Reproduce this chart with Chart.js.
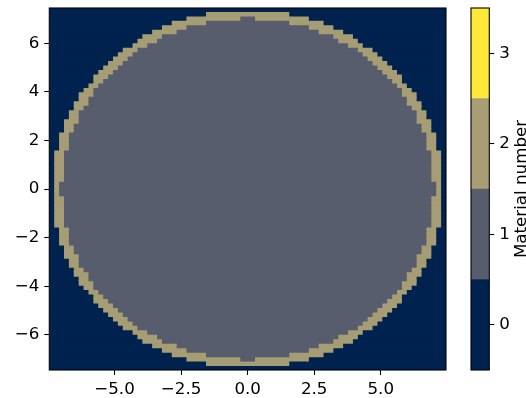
<!DOCTYPE html>
<html>
<head>
<meta charset="utf-8">
<script src="https://cdn.jsdelivr.net/npm/chart.js@4.4.0/dist/chart.umd.min.js"></script>
<style>
  body { margin: 0; background: #fff; }
  #wrap { position: relative; width: 526px; height: 398px; }
  #main { position: absolute; left: 0; top: 0; }
  #cbar { position: absolute; left: 440px; top: 0; }
</style>
</head>
<body>
<div id="wrap">
  <canvas id="main" width="526" height="398"></canvas>
  <canvas id="cbar" width="86" height="398"></canvas>
</div>
<script>
// plot extent and number of cells per side
const extent = [-7.45, 7.45];
const nCells = 81;
// half width (in cells) of the disc for each row, index 0 = centre row
const outerHalf = [39, 39, 39, 39, 39, 39, 39, 39, 39, 38, 38, 38, 38, 37, 37, 37, 36, 36, 35, 35,
  34, 34, 33, 32, 31, 31, 30, 29, 28, 27, 26, 25, 23, 22, 21, 19, 17, 15, 12, 8, -1];
const innerHalf = [38, 38, 37, 37, 37, 37, 37, 37, 37, 36, 36, 36, 36, 35, 35, 34, 34, 34, 33, 32,
  32, 31, 31, 30, 29, 28, 27, 26, 25, 24, 23, 22, 20, 18, 17, 14, 12, 8, 1, -1, -1];
const materials = [0, 1, 2, 3];
const materialColors = ["#00224e", "#575d6d", "#a69d75", "#fee838"];
const xTicks = [-5, -2.5, 0, 2.5, 5];
const yTicks = [-6, -4, -2, 0, 2, 4, 6];
const cbarTicks = [0, 1, 2, 3];

Chart.defaults.font.family = "'DejaVu Sans', sans-serif";
Chart.defaults.font.size = 16.7;
Chart.defaults.color = "#000";

const minus = (s) => s.replace("-", "\u2212");

// one floating bar per row and per material
const cell = (extent[1] - extent[0]) / nCells;
const mid = (nCells - 1) / 2;
const fullRows = [], ringRows = [], innerRows = [];
for (let r = 0; r < nCells; r++) {
  const k = Math.abs(r - mid);
  const yc = extent[0] + (r + 0.5) * cell;
  fullRows.push({ x: [extent[0], extent[1]], y: yc });
  const o = outerHalf[k];
  if (o >= 0) ringRows.push({ x: [-(o + 0.5) * cell, (o + 0.5) * cell], y: yc });
  const i = innerHalf[k];
  if (i >= 0) innerRows.push({ x: [-(i + 0.5) * cell, (i + 0.5) * cell], y: yc });
}

// cadre noir autour de la zone de tracé
const frame = {
  id: "frame",
  afterDraw(chart) {
    const { ctx, chartArea: a } = chart;
    ctx.save();
    ctx.strokeStyle = "#000";
    ctx.lineWidth = 1.1;
    ctx.strokeRect(a.left, a.top, a.right - a.left, a.bottom - a.top);
    ctx.restore();
  },
};

// taille d'axe fixe, sans marge ajoutée pour les étiquettes
const fixSize = (w, h) => (a) => {
  if (w !== null) a.width = w;
  if (h !== null) a.height = h;
  a.paddingTop = a.paddingBottom = a.paddingLeft = a.paddingRight = 0;
};

const tickGrid = { drawOnChartArea: false, offset: false, tickLength: 5, tickColor: "#000", tickWidth: 1.1 };

new Chart(document.getElementById("main"), {
  type: "bar",
  data: {
    datasets: [
      { label: "1", data: innerRows, backgroundColor: materialColors[1] },
      { label: "2", data: ringRows, backgroundColor: materialColors[2] },
      { label: "0", data: fullRows, backgroundColor: materialColors[0] },
    ],
  },
  options: {
    indexAxis: "y",
    responsive: false,
    animation: false,
    layout: { padding: { top: 8, right: 80, left: 0, bottom: 0 } },
    // rows overlap a little so no seam shows between them
    datasets: { bar: { grouped: false, categoryPercentage: 1, barPercentage: 1.25, borderWidth: 0 } },
    plugins: { legend: { display: false }, tooltip: { enabled: false } },
    scales: {
      x: {
        type: "linear", min: extent[0], max: extent[1],
        afterBuildTicks: (a) => { a.ticks = xTicks.map((v) => ({ value: v })); },
        afterFit: fixSize(null, 28),
        border: { display: false },
        grid: tickGrid,
        ticks: { padding: 5, autoSkip: false, maxRotation: 0, callback: (v) => minus(v.toFixed(1)) },
      },
      y: {
        type: "linear", min: extent[0], max: extent[1], offset: false,
        afterBuildTicks: (a) => { a.ticks = yTicks.map((v) => ({ value: v })); },
        afterFit: fixSize(49.3, null),
        border: { display: false },
        grid: tickGrid,
        ticks: { padding: 5, autoSkip: false, callback: (v) => minus(String(v)) },
      },
    },
  },
  plugins: [frame],
});

// titre vertical de la barre de couleur (lu de bas en haut)
const cbarLabel = {
  id: "cbarLabel",
  afterDraw(chart) {
    const { ctx, chartArea: a } = chart;
    ctx.save();
    ctx.translate(73, (a.top + a.bottom) / 2);
    ctx.rotate(-Math.PI / 2);
    ctx.font = "16.7px 'DejaVu Sans'";
    ctx.fillStyle = "#000";
    ctx.textAlign = "center";
    ctx.textBaseline = "top";
    ctx.fillText("Material number", 0, 0);
    ctx.restore();
  },
};

new Chart(document.getElementById("cbar"), {
  type: "bar",
  data: {
    labels: [""],
    datasets: materials.map((m, i) => ({
      label: String(m),
      data: [[m - 0.5, m + 0.5]],
      backgroundColor: materialColors[i],
    })),
  },
  options: {
    responsive: false,
    animation: false,
    layout: { padding: { left: 31, top: 8, bottom: 28, right: 0 } },
    datasets: { bar: { grouped: false, categoryPercentage: 1, barPercentage: 1, borderWidth: 0 } },
    plugins: { legend: { display: false }, tooltip: { enabled: false } },
    scales: {
      x: { display: false },
      y: {
        position: "right", min: -0.5, max: 3.5,
        afterBuildTicks: (a) => { a.ticks = cbarTicks.map((v) => ({ value: v })); },
        afterFit: fixSize(36.7, null),
        border: { display: false },
        grid: tickGrid,
        ticks: { padding: 5, autoSkip: false },
      },
    },
  },
  plugins: [frame, cbarLabel],
});
</script>
</body>
</html>
